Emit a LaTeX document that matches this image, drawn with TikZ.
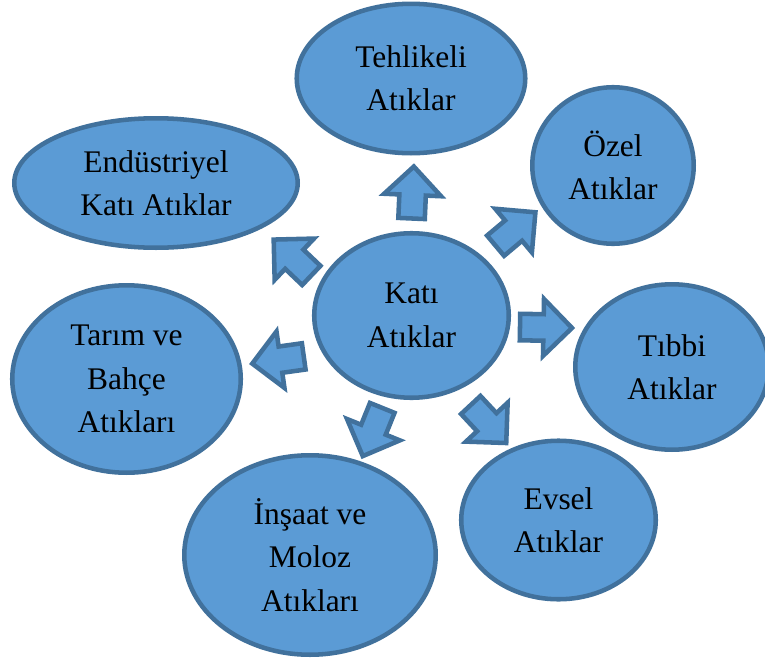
\documentclass[tikz,border=0pt]{standalone}
\usepackage{fontspec}
\setmainfont{Liberation Serif}
\usepackage{tikz}
\usetikzlibrary{shapes.geometric}

\definecolor{atikfill}{HTML}{5B9BD5}
\definecolor{atikline}{HTML}{41719C}

\begin{document}
\begin{tikzpicture}[x=0.75pt,y=-0.75pt,
	atik/.style={ellipse, draw=atikline, fill=atikfill, line width=3.4pt, inner sep=0pt, align=center, font=\fontsize{23.6}{32.5}\selectfont},
	okbox/.style={draw=atikline, fill=atikfill, line width=3.4pt}]
	\useasboundingbox (0,0) rectangle (765,664);
	% atik turleri
	\node[atik, minimum width=171.4pt, minimum height=112.1pt] (teh) at (411,78.5) {Tehlikeli\\Atıklar};
	\node[atik, minimum width=121.1pt, minimum height=117.4pt] (ozel) at (613,165.5) {Özel\\Atıklar};
	\node[atik, minimum width=212.6pt, minimum height=97.1pt] (end) at (156,183) {Endüstriyel\\Katı Atıklar};
	\node[atik, minimum width=145.9pt, minimum height=123.4pt] (kati) at (411.5,315.5) {Katı\\Atıklar};
	\node[atik, minimum width=171.4pt, minimum height=140.6pt] (tarim) at (126.5,379) {Tarım ve\\Bahçe\\Atıkları};
	\node[atik, minimum width=145.1pt, minimum height=124.1pt] (tibbi) at (672,367) {Tıbbi\\Atıklar};
	\node[atik, minimum width=145.9pt, minimum height=118.9pt] (evsel) at (558.5,520) {Evsel\\Atıklar};
	\node[atik, minimum width=188.6pt, minimum height=149.6pt] (insaat) at (310,555) {İnşaat ve\\Moloz\\Atıkları};
	% oklar
	\foreach \x/\y/\a in {412.7/192.5/87.5, 515.5/229/40, 292.5/257.5/136.4, 278/360/188,
		546/327.5/-1, 372.5/432/248, 488.5/424/313}
		\draw[okbox, shift={(\x,\y)}, rotate=\a] (-26,-13.25) -- (-2.5,-13.25) -- (-2.5,-28.5) -- (26,0)
			-- (-2.5,28.5) -- (-2.5,13.25) -- (-26,13.25) -- cycle;
\end{tikzpicture}
\end{document}
